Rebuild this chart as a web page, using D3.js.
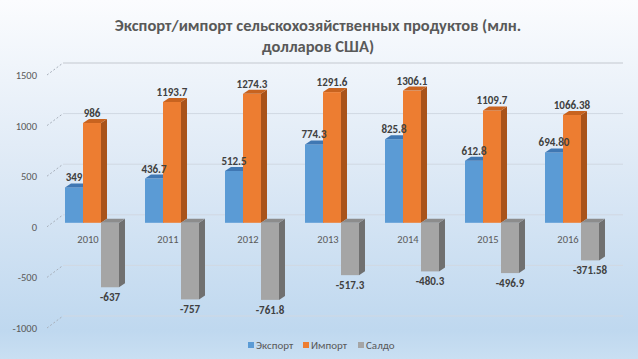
<!DOCTYPE html>
<html>
<head>
<meta charset="utf-8">
<script src="https://cdn.jsdelivr.net/npm/d3@7"></script>
<style>
  body { margin: 0; padding: 0; }
  svg { display: block; }
</style>
</head>
<body>
<div id="chart"></div>
<script>
var years = ["2010", "2011", "2012", "2013", "2014", "2015", "2016"];
var exportVals = [349, 436.7, 512.5, 774.3, 825.8, 612.8, 694.80];
var importVals = [986, 1193.7, 1274.3, 1291.6, 1306.1, 1109.7, 1066.38];
var saldoVals = [-637, -757, -761.8, -517.3, -480.3, -496.9, -371.58];
var exportLabels = ["349", "436.7", "512.5", "774.3", "825.8", "612.8", "694.80"];
var importLabels = ["986", "1193.7", "1274.3", "1291.6", "1306.1", "1109.7", "1066.38"];
var saldoLabels = ["-637", "-757", "-761.8", "-517.3", "-480.3", "-496.9", "-371.58"];
var seriesNames = ["Экспорт", "Импорт", "Салдо"];
var yTicks = [-1000, -500, 0, 500, 1000, 1500];

var W = 638, H = 359;
var font = "Carlito, 'Open Sans', 'Noto Sans', sans-serif";

var series = [
  {name: seriesNames[0], vals: exportVals, labels: exportLabels, front: "#5b9bd5", top: "#3f77b3", side: "#3a6ea5"},
  {name: seriesNames[1], vals: importVals, labels: importLabels, front: "#ed7d31", top: "#c8631f", side: "#a9531a"},
  {name: seriesNames[2], vals: saldoVals, labels: saldoLabels, front: "#a5a5a5", top: "#8c8c8c", side: "#707070"}
];

var svg = d3.select("#chart").append("svg").attr("width", W).attr("height", H);

var defs = svg.append("defs");
var grad = defs.append("linearGradient").attr("id", "bg").attr("x1", 0).attr("y1", 0).attr("x2", 0).attr("y2", 1);
grad.append("stop").attr("offset", "0%").attr("stop-color", "#fbfcfe");
grad.append("stop").attr("offset", "45%").attr("stop-color", "#dfeaf6");
grad.append("stop").attr("offset", "92%").attr("stop-color", "#bfd8ef");
grad.append("stop").attr("offset", "100%").attr("stop-color", "#c9dff2");
svg.append("rect").attr("width", W).attr("height", H).attr("fill", "url(#bg)");

// title
var title = svg.append("text").attr("text-anchor", "middle").attr("fill", "#595959")
  .style("font-family", font).style("font-size", "16.5px").style("font-weight", "bold");
title.append("tspan").attr("x", 318).attr("y", 31).text("Экспорт/импорт сельскохозяйственных продуктов (млн.");
title.append("tspan").attr("x", 318).attr("y", 52).text("долларов США)");

// back wall scale
var yBack = d3.scaleLinear().domain([-1000, 1500]).range([316, 63]);
var depthX = 16, depthY = 12;
var barShiftY = 8;   // bars front plane relative to back wall
var backLeft = 63, backRight = 623;

// gridlines on back wall
svg.append("g").selectAll("line").data(yTicks).enter().append("line")
  .attr("x1", backLeft).attr("x2", backRight)
  .attr("y1", function(d) { return yBack(d); }).attr("y2", function(d) { return yBack(d); })
  .attr("stroke", function(d) { return d == 1500 ? "#c3c8cf" : "#d0d8e2"; }).attr("stroke-width", 1);

// slanted lines to axis labels
svg.append("g").selectAll("line").data(yTicks).enter().append("line")
  .attr("x1", backLeft - depthX).attr("x2", backLeft)
  .attr("y1", function(d) { return yBack(d) + depthY; }).attr("y2", function(d) { return yBack(d); })
  .attr("stroke", "#a8b0bb").attr("stroke-width", 1).attr("stroke-dasharray", "2,2");

svg.append("g").selectAll("text").data(yTicks).enter().append("text")
  .attr("x", 37).attr("y", function(d) { return yBack(d) + depthY + 4; })
  .attr("text-anchor", "end").attr("fill", "#595959")
  .style("font-family", font).style("font-size", "10.5px")
  .text(function(d) { return d; });

// bars
var xScale = d3.scaleBand().domain(years).range([52, 612]).paddingInner(0.325).paddingOuter(0.1625);
var xInner = d3.scaleBand().domain(seriesNames).range([0, xScale.bandwidth()]);
var yBar = function(v) { return yBack(v) + barShiftY; };
var bdx = 6, bdy = 4;

// year labels
svg.append("g").selectAll("text").data(years).enter().append("text")
  .attr("x", function(d) { return xScale(d) + xScale.bandwidth() / 2 - 4; })
  .attr("y", 243).attr("text-anchor", "middle").attr("fill", "#595959")
  .style("font-family", font).style("font-size", "10.5px")
  .text(function(d) { return d; });

years.forEach(function(yr, i) {
  var g = svg.append("g");
  series.forEach(function(s) {
    var v = s.vals[i];
    var x0 = xScale(yr) + xInner(s.name);
    var w = xInner.bandwidth();
    var y0 = yBar(0), y1 = yBar(v);
    var top = Math.min(y0, y1), bot = Math.max(y0, y1);
    // side
    g.append("path").attr("fill", s.side)
      .attr("d", "M" + (x0 + w) + "," + top + " L" + (x0 + w + bdx) + "," + (top - bdy) +
        " L" + (x0 + w + bdx) + "," + (bot - bdy) + " L" + (x0 + w) + "," + bot + "Z");
    // front
    g.append("rect").attr("x", x0).attr("y", top).attr("width", w).attr("height", bot - top).attr("fill", s.front);
    // top
    g.append("path").attr("fill", s.top)
      .attr("d", "M" + x0 + "," + top + " L" + (x0 + bdx) + "," + (top - bdy) +
        " L" + (x0 + w + bdx) + "," + (top - bdy) + " L" + (x0 + w) + "," + top + "Z");
  });
});

// value labels
series.forEach(function(s) {
  svg.append("g").selectAll("text").data(years).enter().append("text")
    .attr("x", function(d) { return xScale(d) + xInner(s.name) + xInner.bandwidth() / 2; })
    .attr("y", function(d, i) { var v = s.vals[i]; return v >= 0 ? yBar(v) - 6 : yBar(v) + 14; })
    .attr("text-anchor", "middle").attr("fill", "#404040")
    .style("font-family", font).style("font-size", "11px").style("font-weight", "bold")
    .text(function(d, i) { return s.labels[i]; });
});

// legend
var legendX = [248, 303, 358];
var leg = svg.append("g").selectAll("g").data(series).enter().append("g")
  .attr("transform", function(d, i) { return "translate(" + legendX[i] + ",346)"; });
leg.append("rect").attr("x", 0).attr("y", -4).attr("width", 6).attr("height", 6).attr("fill", function(d) { return d.front; });
leg.append("text").attr("x", 8).attr("y", 3).attr("fill", "#595959")
  .style("font-family", font).style("font-size", "11px")
  .text(function(d) { return d.name; });
</script>
</body>
</html>
